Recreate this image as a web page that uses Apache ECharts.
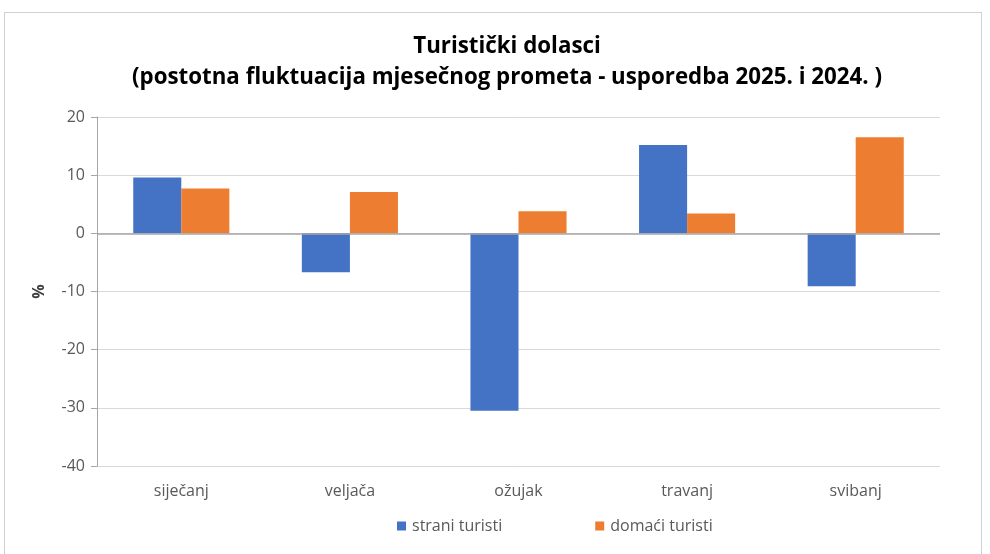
<!DOCTYPE html>
<html>
<head>
<meta charset="utf-8">
<script src="https://cdn.jsdelivr.net/npm/echarts@6/dist/echarts.min.js"></script>
<style>
  html, body { margin: 0; padding: 0; background: #fff; }
  #main { position: absolute; left: 0; top: 0; width: 990px; height: 554px; }
  #frame { position: absolute; left: 4px; top: 12px; width: 976px; height: 560px; border: 1px solid #d0d0d0; pointer-events: none; }
</style>
</head>
<body>
<div id="main"></div>
<div id="frame"></div>
<script>
// podaci
const months = ['siječanj', 'veljača', 'ožujak', 'travanj', 'svibanj']
const straniTuristi = [9.6, -6.7, -30.5, 15.2, -9.1]
const domaciTuristi = [7.7, 7.1, 3.8, 3.4, 16.5]
const seriesNames = ['strani turisti', 'domaći turisti']
const colors = ['#4472C4', '#ED7D31']

const font = '"Open Sans", "Noto Sans", sans-serif'
const myChart = echarts.init(document.getElementById('main'))

const option = {
  animation: false,
  color: colors,
  title: {
    text: 'Turistički dolasci\n(postotna fluktuacija mjesečnog prometa - usporedba 2025. i 2024. )',
    left: 502,
    textAlign: 'center',
    top: 26,
    textStyle: {
      fontFamily: font,
      fontSize: 22.3,
      fontWeight: 'bold',
      color: '#000',
      lineHeight: 31
    }
  },
  legend: {
    data: seriesNames,
    left: 392,
    top: 513,
    itemWidth: 9,
    itemHeight: 9,
    itemGap: 93,
    icon: 'rect',
    textStyle: { fontFamily: font, fontSize: 16, color: '#595959', padding: [0, 0, 0, 1] }
  },
  grid: {
    left: 97,
    right: 50,
    top: 117,
    bottom: 88
  },
  xAxis: {
    type: 'category',
    data: months,
    axisLine: { show: false, onZero: false },
    axisTick: { show: false },
    axisLabel: { fontFamily: font, fontSize: 16, color: '#595959', margin: 17 }
  },
  yAxis: {
    type: 'value',
    min: -40,
    max: 20,
    interval: 10,
    name: '%',
    nameLocation: 'middle',
    nameGap: 50,
    nameRotate: 90,
    nameTextStyle: { fontFamily: font, fontSize: 16, fontWeight: 'bold', color: '#404040' },
    axisLine: { show: true, lineStyle: { color: '#a6a6a6' } },
    axisTick: { show: true, length: 6, lineStyle: { color: '#a6a6a6' } },
    axisLabel: { fontFamily: font, fontSize: 16, color: '#595959', margin: 12 },
    splitLine: { lineStyle: { color: '#d9d9d9' } }
  },
  series: [
    {
      name: seriesNames[0],
      type: 'bar',
      data: straniTuristi,
      barGap: '0%',
      barCategoryGap: '43%',
      markLine: {
        silent: true,
        symbol: 'none',
        label: { show: false },
        lineStyle: { color: '#a6a6a6', type: 'solid', width: 1.5 },
        data: [{ yAxis: 0 }]
      }
    },
    {
      name: seriesNames[1],
      type: 'bar',
      data: domaciTuristi,
      barGap: '0%',
      barCategoryGap: '43%'
    }
  ]
}

option && myChart.setOption(option)
</script>
</body>
</html>
